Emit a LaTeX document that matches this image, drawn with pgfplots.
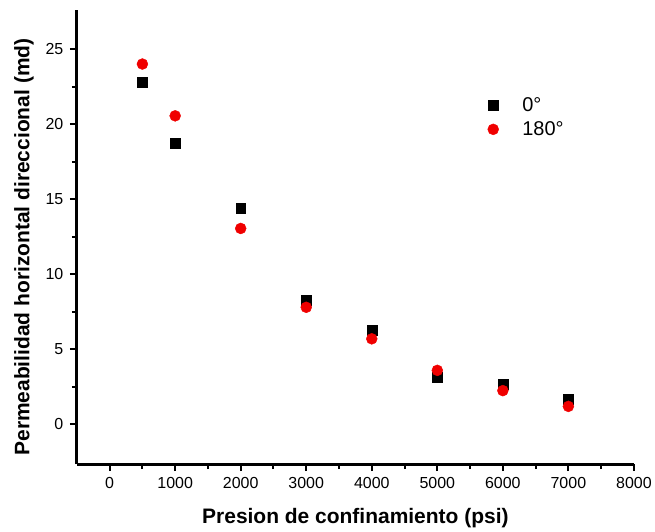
\documentclass[border=0pt]{standalone}
\usepackage{fontspec}
\setmainfont{Liberation Sans}
\usepackage{pgfplots}
\pgfplotsset{compat=1.18}
\definecolor{ptred}{RGB}{240,0,0}

\begin{document}
\begin{tikzpicture}
\begin{axis}[
  scale only axis,
  width=558pt, height=455pt,
  xmin=-500, xmax=8000, ymin=-2.65, ymax=27.6,
  xtick={0,1000,...,8000}, ytick={0,5,...,25},
  minor x tick num=1, minor y tick num=1,
  axis x line*=bottom, axis y line*=left,
  axis line style={-, line width=2.8pt},
  every outer x axis line/.append style={-, line width=2.8pt},
  every outer y axis line/.append style={-, line width=2.8pt},
  xtick pos=bottom, ytick pos=left,
  tick align=outside,
  major tick length=7pt, minor tick length=5pt,
  tick style={black, line width=2pt},
  /pgf/number format/assume math mode=true,
  /pgf/number format/1000 sep={},
  tick label style={font=\fontsize{16}{18}\selectfont},
  xticklabel style={yshift=-3pt},
  yticklabel style={xshift=-3pt},
  xlabel={\bfseries Presion de confinamiento (psi)},
  ylabel={\bfseries Permeabilidad horizontal direccional (md)},
  xlabel style={font=\fontsize{21}{23}\selectfont, yshift=-12pt},
  ylabel style={font=\fontsize{21}{23}\selectfont, yshift=5pt, xshift=-10pt},
  legend style={draw=none, fill=none, at={(axis cs:5710,22.07)}, anchor=north west,
    font=\fontsize{20}{22}\selectfont, row sep=5pt},
  legend cell align=left,
  legend image code/.code={\path (0pt,0pt) (33pt,0pt);\draw[#1] plot coordinates {(6pt,0pt)};},
]
\addplot[only marks, mark=square*, mark size=5pt, black]
  coordinates {(500,22.8)(1000,18.75)(2000,14.4)(3000,8.25)(4000,6.3)(5000,3.15)(6000,2.7)(7000,1.65)};
\addlegendentry{0°}
\addplot[only marks, mark=*, mark size=5.5pt, ptred]
  coordinates {(500,24.0)(1000,20.55)(2000,13.05)(3000,7.8)(4000,5.7)(5000,3.6)(6000,2.25)(7000,1.2)};
\addlegendentry{180°}
\coordinate (sw) at (rel axis cs:0,0);
\coordinate (ne) at (rel axis cs:1,1);
\end{axis}
\path (sw) ++(-77pt,-67pt);
\path (ne) ++(20pt,10pt);
\end{tikzpicture}
\end{document}
